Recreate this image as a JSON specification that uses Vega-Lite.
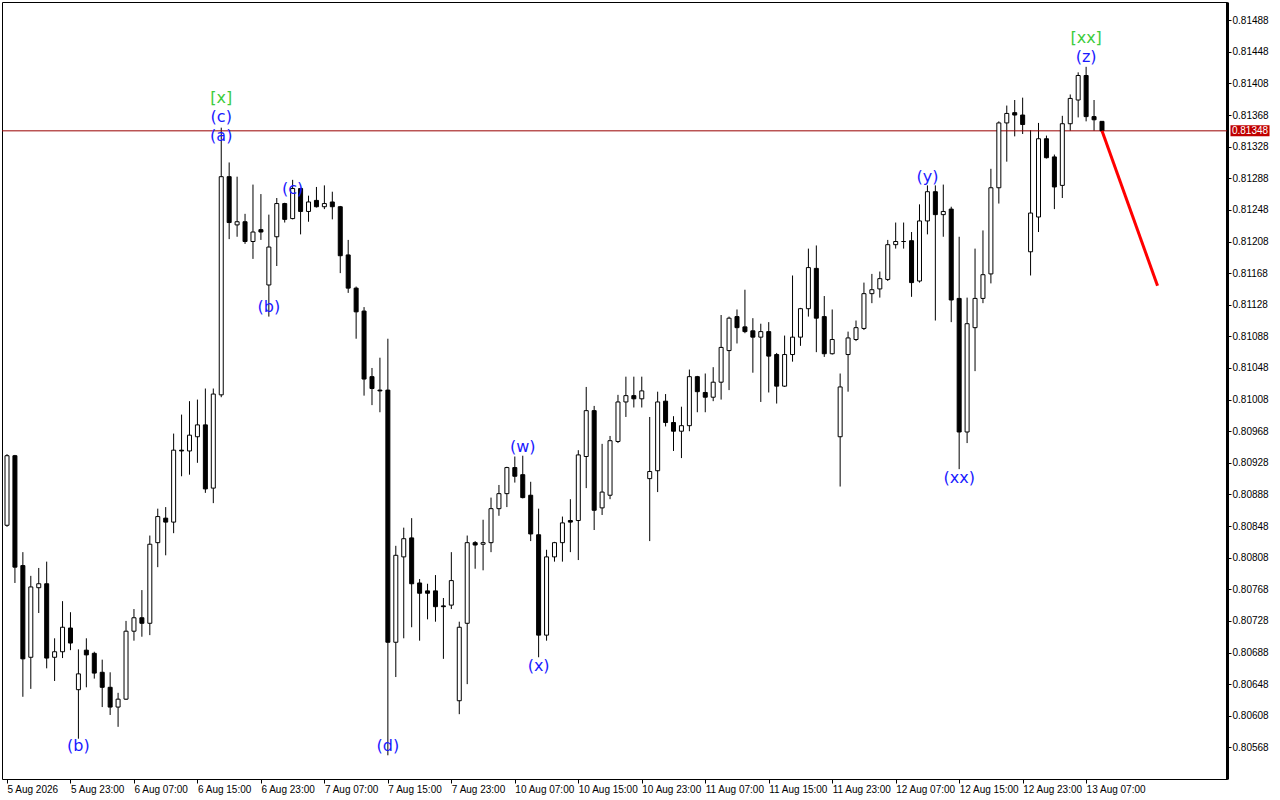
{
  "$schema": "https://vega.github.io/schema/vega-lite/v6.json",
  "autosize": "none",
  "width": 1225,
  "height": 777,
  "padding": {"left": 2, "top": 2, "right": 53, "bottom": 21},
  "background": "white",
  "config": {
    "view": {"stroke": "black", "strokeWidth": 1},
    "axis": {"labelFont": "Liberation Sans", "labelFontSize": 10, "labelColor": "black", "tickColor": "black", "grid": false, "title": null, "labelOverlap": false},
    "axisX": {"domain": false},
    "axisY": {"labelOverlap": false, "domain": true, "domainColor": "black", "domainWidth": 3}
  },
  "datasets": {
    "candles": [
      {"i": 0, "o": 0.80849, "h": 0.80939, "l": 0.80847, "c": 0.80937},
      {"i": 1, "o": 0.80937, "h": 0.80938, "l": 0.80776, "c": 0.80796},
      {"i": 2, "o": 0.80798, "h": 0.80815, "l": 0.80632, "c": 0.80680},
      {"i": 3, "o": 0.80682, "h": 0.80785, "l": 0.80642, "c": 0.80771},
      {"i": 4, "o": 0.80770, "h": 0.80795, "l": 0.80738, "c": 0.80775},
      {"i": 5, "o": 0.80775, "h": 0.80803, "l": 0.80668, "c": 0.80681},
      {"i": 6, "o": 0.80682, "h": 0.80706, "l": 0.80652, "c": 0.80689},
      {"i": 7, "o": 0.80689, "h": 0.80753, "l": 0.80681, "c": 0.80720},
      {"i": 8, "o": 0.80719, "h": 0.80739, "l": 0.80691, "c": 0.80700},
      {"i": 9, "o": 0.80641, "h": 0.80692, "l": 0.80579, "c": 0.80661},
      {"i": 10, "o": 0.80691, "h": 0.80706, "l": 0.80644, "c": 0.80685},
      {"i": 11, "o": 0.80687, "h": 0.80689, "l": 0.80655, "c": 0.80662},
      {"i": 12, "o": 0.80663, "h": 0.80679, "l": 0.80619, "c": 0.80644},
      {"i": 13, "o": 0.80644, "h": 0.80663, "l": 0.80609, "c": 0.80619},
      {"i": 14, "o": 0.80619, "h": 0.80637, "l": 0.80594, "c": 0.80629},
      {"i": 15, "o": 0.80629, "h": 0.80728, "l": 0.80628, "c": 0.80715},
      {"i": 16, "o": 0.80715, "h": 0.80743, "l": 0.80703, "c": 0.80732},
      {"i": 17, "o": 0.80732, "h": 0.80767, "l": 0.80708, "c": 0.80725},
      {"i": 18, "o": 0.80725, "h": 0.80836, "l": 0.80710, "c": 0.80825},
      {"i": 19, "o": 0.80827, "h": 0.80870, "l": 0.80796, "c": 0.80860},
      {"i": 20, "o": 0.80858, "h": 0.80872, "l": 0.80811, "c": 0.80853},
      {"i": 21, "o": 0.80853, "h": 0.80965, "l": 0.80839, "c": 0.80944},
      {"i": 22, "o": 0.80944, "h": 0.80989, "l": 0.80911, "c": 0.80943},
      {"i": 23, "o": 0.80943, "h": 0.81006, "l": 0.80913, "c": 0.80963},
      {"i": 24, "o": 0.80961, "h": 0.81008, "l": 0.80928, "c": 0.80976},
      {"i": 25, "o": 0.80976, "h": 0.81022, "l": 0.80890, "c": 0.80895},
      {"i": 26, "o": 0.80896, "h": 0.81022, "l": 0.80877, "c": 0.81015},
      {"i": 27, "o": 0.81014, "h": 0.81352, "l": 0.81011, "c": 0.81290},
      {"i": 28, "o": 0.81290, "h": 0.81308, "l": 0.81211, "c": 0.81232},
      {"i": 29, "o": 0.81229, "h": 0.81290, "l": 0.81214, "c": 0.81233},
      {"i": 30, "o": 0.81233, "h": 0.81243, "l": 0.81205, "c": 0.81208},
      {"i": 31, "o": 0.81208, "h": 0.81280, "l": 0.81186, "c": 0.81220},
      {"i": 32, "o": 0.81223, "h": 0.81268, "l": 0.81210, "c": 0.81220},
      {"i": 33, "o": 0.81153, "h": 0.81242, "l": 0.81113, "c": 0.81201},
      {"i": 34, "o": 0.81214, "h": 0.81263, "l": 0.81177, "c": 0.81256},
      {"i": 35, "o": 0.81256, "h": 0.81257, "l": 0.81232, "c": 0.81236},
      {"i": 36, "o": 0.81237, "h": 0.81286, "l": 0.81236, "c": 0.81275},
      {"i": 37, "o": 0.81275, "h": 0.81276, "l": 0.81217, "c": 0.81246},
      {"i": 38, "o": 0.81246, "h": 0.81266, "l": 0.81233, "c": 0.81258},
      {"i": 39, "o": 0.81260, "h": 0.81277, "l": 0.81251, "c": 0.81252},
      {"i": 40, "o": 0.81252, "h": 0.81279, "l": 0.81249, "c": 0.81256},
      {"i": 41, "o": 0.81258, "h": 0.81271, "l": 0.81236, "c": 0.81252},
      {"i": 42, "o": 0.81252, "h": 0.81253, "l": 0.81168, "c": 0.81190},
      {"i": 43, "o": 0.81191, "h": 0.81210, "l": 0.81143, "c": 0.81149},
      {"i": 44, "o": 0.81149, "h": 0.81151, "l": 0.81085, "c": 0.81119},
      {"i": 45, "o": 0.81120, "h": 0.81125, "l": 0.81013, "c": 0.81034},
      {"i": 46, "o": 0.81037, "h": 0.81048, "l": 0.81001, "c": 0.81022},
      {"i": 47, "o": 0.81020, "h": 0.81061, "l": 0.80992, "c": 0.81019},
      {"i": 48, "o": 0.81020, "h": 0.81085, "l": 0.80558, "c": 0.80701},
      {"i": 49, "o": 0.80701, "h": 0.80823, "l": 0.80657, "c": 0.80811},
      {"i": 50, "o": 0.80809, "h": 0.80846, "l": 0.80706, "c": 0.80832},
      {"i": 51, "o": 0.80833, "h": 0.80858, "l": 0.80720, "c": 0.80775},
      {"i": 52, "o": 0.80776, "h": 0.80781, "l": 0.80703, "c": 0.80763},
      {"i": 53, "o": 0.80766, "h": 0.80775, "l": 0.80730, "c": 0.80763},
      {"i": 54, "o": 0.80766, "h": 0.80786, "l": 0.80727, "c": 0.80746},
      {"i": 55, "o": 0.80747, "h": 0.80757, "l": 0.80680, "c": 0.80746},
      {"i": 56, "o": 0.80748, "h": 0.80815, "l": 0.80743, "c": 0.80779},
      {"i": 57, "o": 0.80627, "h": 0.80727, "l": 0.80610, "c": 0.80720},
      {"i": 58, "o": 0.80725, "h": 0.80836, "l": 0.80648, "c": 0.80827},
      {"i": 59, "o": 0.80827, "h": 0.80829, "l": 0.80794, "c": 0.80824},
      {"i": 60, "o": 0.80825, "h": 0.80856, "l": 0.80792, "c": 0.80827},
      {"i": 61, "o": 0.80827, "h": 0.80884, "l": 0.80815, "c": 0.80870},
      {"i": 62, "o": 0.80870, "h": 0.80900, "l": 0.80861, "c": 0.80889},
      {"i": 63, "o": 0.80889, "h": 0.80923, "l": 0.80872, "c": 0.80922},
      {"i": 64, "o": 0.80922, "h": 0.80936, "l": 0.80903, "c": 0.80911},
      {"i": 65, "o": 0.80913, "h": 0.80937, "l": 0.80883, "c": 0.80884},
      {"i": 66, "o": 0.80887, "h": 0.80904, "l": 0.80829, "c": 0.80838},
      {"i": 67, "o": 0.80837, "h": 0.80870, "l": 0.80682, "c": 0.80710},
      {"i": 68, "o": 0.80710, "h": 0.80818, "l": 0.80703, "c": 0.80809},
      {"i": 69, "o": 0.80809, "h": 0.80828, "l": 0.80803, "c": 0.80827},
      {"i": 70, "o": 0.80827, "h": 0.80860, "l": 0.80803, "c": 0.80852},
      {"i": 71, "o": 0.80855, "h": 0.80882, "l": 0.80815, "c": 0.80853},
      {"i": 72, "o": 0.80855, "h": 0.80944, "l": 0.80805, "c": 0.80938},
      {"i": 73, "o": 0.80936, "h": 0.81024, "l": 0.80896, "c": 0.80994},
      {"i": 74, "o": 0.80994, "h": 0.81000, "l": 0.80843, "c": 0.80868},
      {"i": 75, "o": 0.80871, "h": 0.80952, "l": 0.80862, "c": 0.80891},
      {"i": 76, "o": 0.80887, "h": 0.80962, "l": 0.80882, "c": 0.80956},
      {"i": 77, "o": 0.80955, "h": 0.81014, "l": 0.80953, "c": 0.81005},
      {"i": 78, "o": 0.81005, "h": 0.81037, "l": 0.80986, "c": 0.81013},
      {"i": 79, "o": 0.81013, "h": 0.81037, "l": 0.80998, "c": 0.81009},
      {"i": 80, "o": 0.81009, "h": 0.81037, "l": 0.80998, "c": 0.81019},
      {"i": 81, "o": 0.80908, "h": 0.80986, "l": 0.80829, "c": 0.80917},
      {"i": 82, "o": 0.80918, "h": 0.81018, "l": 0.80891, "c": 0.81005},
      {"i": 83, "o": 0.81006, "h": 0.81015, "l": 0.80974, "c": 0.80979},
      {"i": 84, "o": 0.80979, "h": 0.80987, "l": 0.80943, "c": 0.80968},
      {"i": 85, "o": 0.80968, "h": 0.80999, "l": 0.80934, "c": 0.80975},
      {"i": 86, "o": 0.80975, "h": 0.81046, "l": 0.80968, "c": 0.81037},
      {"i": 87, "o": 0.81037, "h": 0.81038, "l": 0.80992, "c": 0.81018},
      {"i": 88, "o": 0.81017, "h": 0.81041, "l": 0.80992, "c": 0.81011},
      {"i": 89, "o": 0.81011, "h": 0.81049, "l": 0.81006, "c": 0.81030},
      {"i": 90, "o": 0.81030, "h": 0.81115, "l": 0.81008, "c": 0.81074},
      {"i": 91, "o": 0.81070, "h": 0.81113, "l": 0.81020, "c": 0.81111},
      {"i": 92, "o": 0.81113, "h": 0.81122, "l": 0.81079, "c": 0.81099},
      {"i": 93, "o": 0.81100, "h": 0.81147, "l": 0.81092, "c": 0.81094},
      {"i": 94, "o": 0.81095, "h": 0.81111, "l": 0.81042, "c": 0.81087},
      {"i": 95, "o": 0.81087, "h": 0.81104, "l": 0.81005, "c": 0.81094},
      {"i": 96, "o": 0.81094, "h": 0.81106, "l": 0.81017, "c": 0.81063},
      {"i": 97, "o": 0.81065, "h": 0.81067, "l": 0.81003, "c": 0.81025},
      {"i": 98, "o": 0.81025, "h": 0.81089, "l": 0.81024, "c": 0.81065},
      {"i": 99, "o": 0.81065, "h": 0.81165, "l": 0.81056, "c": 0.81087},
      {"i": 100, "o": 0.81087, "h": 0.81124, "l": 0.81076, "c": 0.81123},
      {"i": 101, "o": 0.81123, "h": 0.81199, "l": 0.81113, "c": 0.81175},
      {"i": 102, "o": 0.81174, "h": 0.81203, "l": 0.81068, "c": 0.81111},
      {"i": 103, "o": 0.81113, "h": 0.81139, "l": 0.81062, "c": 0.81066},
      {"i": 104, "o": 0.81066, "h": 0.81122, "l": 0.81065, "c": 0.81084},
      {"i": 105, "o": 0.80961, "h": 0.81041, "l": 0.80898, "c": 0.81024},
      {"i": 106, "o": 0.81065, "h": 0.81094, "l": 0.81018, "c": 0.81086},
      {"i": 107, "o": 0.81084, "h": 0.81108, "l": 0.81082, "c": 0.81099},
      {"i": 108, "o": 0.81098, "h": 0.81156, "l": 0.81096, "c": 0.81142},
      {"i": 109, "o": 0.81142, "h": 0.81167, "l": 0.81130, "c": 0.81147},
      {"i": 110, "o": 0.81148, "h": 0.81170, "l": 0.81137, "c": 0.81161},
      {"i": 111, "o": 0.81160, "h": 0.81210, "l": 0.81158, "c": 0.81204},
      {"i": 112, "o": 0.81204, "h": 0.81232, "l": 0.81199, "c": 0.81208},
      {"i": 113, "o": 0.81208, "h": 0.81232, "l": 0.81199, "c": 0.81208},
      {"i": 114, "o": 0.81209, "h": 0.81220, "l": 0.81138, "c": 0.81156},
      {"i": 115, "o": 0.81158, "h": 0.81255, "l": 0.81156, "c": 0.81234},
      {"i": 116, "o": 0.81234, "h": 0.81279, "l": 0.81217, "c": 0.81271},
      {"i": 117, "o": 0.81271, "h": 0.81279, "l": 0.81108, "c": 0.81242},
      {"i": 118, "o": 0.81242, "h": 0.81280, "l": 0.81214, "c": 0.81246},
      {"i": 119, "o": 0.81249, "h": 0.81252, "l": 0.81106, "c": 0.81134},
      {"i": 120, "o": 0.81136, "h": 0.81214, "l": 0.80920, "c": 0.80967},
      {"i": 121, "o": 0.80967, "h": 0.81137, "l": 0.80953, "c": 0.81104},
      {"i": 122, "o": 0.81099, "h": 0.81199, "l": 0.81044, "c": 0.81136},
      {"i": 123, "o": 0.81136, "h": 0.81222, "l": 0.81130, "c": 0.81166},
      {"i": 124, "o": 0.81167, "h": 0.81300, "l": 0.81155, "c": 0.81276},
      {"i": 125, "o": 0.81276, "h": 0.81360, "l": 0.81256, "c": 0.81358},
      {"i": 126, "o": 0.81358, "h": 0.81380, "l": 0.81309, "c": 0.81370},
      {"i": 127, "o": 0.81371, "h": 0.81387, "l": 0.81341, "c": 0.81368},
      {"i": 128, "o": 0.81368, "h": 0.81390, "l": 0.81344, "c": 0.81356},
      {"i": 129, "o": 0.81195, "h": 0.81349, "l": 0.81165, "c": 0.81244},
      {"i": 130, "o": 0.81239, "h": 0.81358, "l": 0.81220, "c": 0.81338},
      {"i": 131, "o": 0.81338, "h": 0.81342, "l": 0.81313, "c": 0.81314},
      {"i": 132, "o": 0.81315, "h": 0.81318, "l": 0.81249, "c": 0.81277},
      {"i": 133, "o": 0.81279, "h": 0.81367, "l": 0.81263, "c": 0.81357},
      {"i": 134, "o": 0.81357, "h": 0.81394, "l": 0.81348, "c": 0.81389},
      {"i": 135, "o": 0.81387, "h": 0.81422, "l": 0.81365, "c": 0.81418},
      {"i": 136, "o": 0.81418, "h": 0.81429, "l": 0.81360, "c": 0.81366},
      {"i": 137, "o": 0.81366, "h": 0.81387, "l": 0.81348, "c": 0.81362},
      {"i": 138, "o": 0.81360, "h": 0.81360, "l": 0.81348, "c": 0.81348}
    ],
    "labels": [
      {"i": 27, "p": 0.81390, "t": "[x]", "level": "major"},
      {"i": 27, "p": 0.81365, "t": "(c)", "level": "minor"},
      {"i": 27, "p": 0.81342, "t": "(a)", "level": "minor"},
      {"i": 9, "p": 0.80570, "t": "(b)", "level": "minor"},
      {"i": 33, "p": 0.81125, "t": "(b)", "level": "minor"},
      {"i": 36, "p": 0.81274, "t": "(c)", "level": "minor"},
      {"i": 48, "p": 0.80570, "t": "(d)", "level": "minor"},
      {"i": 48, "p": 0.80519, "t": "[y]", "level": "major"},
      {"i": 65, "p": 0.80948, "t": "(w)", "level": "minor"},
      {"i": 67, "p": 0.80671, "t": "(x)", "level": "minor"},
      {"i": 116, "p": 0.81290, "t": "(y)", "level": "minor"},
      {"i": 120, "p": 0.80909, "t": "(xx)", "level": "minor"},
      {"i": 136, "p": 0.81466, "t": "[xx]", "level": "major"},
      {"i": 136, "p": 0.81441, "t": "(z)", "level": "minor"}
    ],
    "forecast": [
      {"i": 138, "p": 0.81348},
      {"i": 145, "p": 0.81152}
    ],
    "bid": [
      {"p": 0.81348}
    ]
  },
  "layer": [
    {
      "data": {"name": "candles"},
      "mark": {"type": "rule", "color": "black", "strokeWidth": 1, "clip": true},
      "encoding": {
        "x": {
          "field": "i",
          "type": "quantitative",
          "scale": {"domain": [0, 153.125], "nice": false, "zero": false},
          "axis": {
            "values": [0, 8, 16, 24, 32, 40, 48, 56, 64, 72, 80, 88, 96, 104, 112, 120, 128, 136],
            "tickCount": 40,
            "labelExpr": "['5 Aug 2026','5 Aug 23:00','6 Aug 07:00','6 Aug 15:00','6 Aug 23:00','7 Aug 07:00','7 Aug 15:00','7 Aug 23:00','10 Aug 07:00','10 Aug 15:00','10 Aug 23:00','11 Aug 07:00','11 Aug 15:00','11 Aug 23:00','12 Aug 07:00','12 Aug 15:00','12 Aug 23:00','13 Aug 07:00'][round(datum.value / 8)]",
            "labelAlign": "left",
            "labelBaseline": "top",
            "labelPadding": 1,
            "tickSize": 4,
            "labelFlush": false,
            "labelOverlap": false
          }
        },
        "y": {
          "field": "l",
          "type": "quantitative",
          "scale": {"domain": [0.80528, 0.81511], "nice": false, "zero": false},
          "axis": {
            "orient": "right",
            "values": [0.81488, 0.81448, 0.81408, 0.81368, 0.81328, 0.81288, 0.81248, 0.81208, 0.81168, 0.81128, 0.81088, 0.81048, 0.81008, 0.80968, 0.80928, 0.80888, 0.80848, 0.80808, 0.80768, 0.80728, 0.80688, 0.80648, 0.80608, 0.80568],
            "tickCount": 40,
            "format": ".5f",
            "tickSize": 4,
            "labelPadding": 1,
            "labelFlush": false,
            "labelOverlap": false,
            "domain": true,
            "domainColor": "black",
            "domainWidth": 3
          }
        },
        "y2": {"field": "h"}
      }
    },
    {
      "data": {"name": "bid"},
      "mark": {"type": "rule", "color": "#990000", "strokeWidth": 1},
      "encoding": {
        "y": {"field": "p", "type": "quantitative"}
      }
    },
    {
      "data": {"name": "candles"},
      "mark": {"type": "bar", "width": 4, "stroke": "black", "strokeWidth": 1, "clip": true},
      "encoding": {
        "x": {"field": "i", "type": "quantitative"},
        "y": {"field": "o", "type": "quantitative"},
        "y2": {"field": "c"},
        "fill": {"condition": {"test": "datum.c >= datum.o", "value": "white"}, "value": "black"}
      }
    },
    {
      "data": {"name": "forecast"},
      "mark": {"type": "line", "color": "#ff0000", "strokeWidth": 3},
      "encoding": {
        "x": {"field": "i", "type": "quantitative"},
        "y": {"field": "p", "type": "quantitative"}
      }
    },
    {
      "data": {"name": "labels"},
      "mark": {"type": "text", "font": "DejaVu Sans", "fontSize": 16, "align": "center", "baseline": "middle", "clip": true},
      "encoding": {
        "x": {"field": "i", "type": "quantitative"},
        "y": {"field": "p", "type": "quantitative"},
        "text": {"field": "t"},
        "color": {
          "field": "level",
          "type": "nominal",
          "scale": {"domain": ["minor", "major"], "range": ["#1a1aff", "#3ccc3c"]},
          "legend": null
        }
      }
    },
    {
      "data": {"name": "bid"},
      "mark": {"type": "point", "shape": "M-1,-0.282L1,-0.282L1,0.282L-1,0.282Z", "size": 1521, "filled": true, "opacity": 1, "color": "#c00000", "xOffset": 23},
      "encoding": {
        "x": {"value": "width"},
        "y": {"field": "p", "type": "quantitative"}
      }
    },
    {
      "data": {"name": "bid"},
      "mark": {"type": "text", "font": "Liberation Sans", "fontSize": 10, "color": "white", "align": "center", "baseline": "middle", "xOffset": 23},
      "encoding": {
        "x": {"value": "width"},
        "y": {"field": "p", "type": "quantitative"},
        "text": {"field": "p", "format": ".5f"}
      }
    }
  ]
}
